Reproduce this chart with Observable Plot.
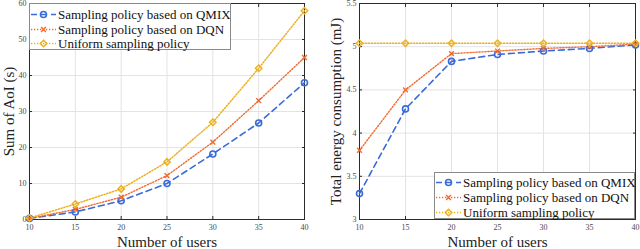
<!DOCTYPE html>
<html>
<head>
<meta charset="utf-8">
<script src="https://cdn.jsdelivr.net/npm/d3@7"></script>
<script src="https://cdn.jsdelivr.net/npm/@observablehq/plot@0.6"></script>
<style>
  body { margin: 0; background: #fff; }
  #wrap { position: relative; width: 640px; height: 249px; font-family: "Liberation Serif", "Times New Roman", serif; }
  #wrap svg.plot { position: absolute; top: 0; }
  .legend { position: absolute; background: #fff; border: 1px solid #8a8a8a; box-sizing: border-box; }
  .legend .row { position: absolute; left: 0; height: 15px; display: flex; align-items: center; white-space: nowrap; }
  .legend .row span { font-family: "Liberation Serif", "Times New Roman", serif; font-size: 13px; color: #111; }
  .legend .row svg { display: block; margin-right: 1px; }
</style>
</head>
<body>
<div id="wrap"></div>
<script>
// ---- data ----
const users = [10, 15, 20, 25, 30, 35, 40];
const aoiQMIX    = [0.3, 2.1, 5.2, 10.0, 18.2, 26.8, 38.0];
const aoiDQN     = [0.3, 2.8, 6.2, 12.2, 21.5, 33.0, 45.0];
const aoiUniform = [0.4, 4.3, 8.5, 16.0, 27.0, 42.0, 58.0];
const energyQMIX    = [3.30, 4.28, 4.83, 4.91, 4.95, 4.98, 5.02];
const energyDQN     = [3.80, 4.50, 4.92, 4.95, 4.98, 5.00, 5.03];
const energyUniform = [5.04, 5.04, 5.04, 5.04, 5.04, 5.04, 5.04];
const seriesNames = ["Sampling policy based on QMIX", "Sampling policy based on DQN", "Uniform sampling policy"];
const xTicks = [10, 15, 20, 25, 30, 35, 40];
const aoiTicks = [0, 10, 20, 30, 40, 50, 60];
const energyTicks = [3, 3.5, 4, 4.5, 5, 5.5];

const colors = ["#3a6bd9", "#f26a2e", "#edb120"];
const styles = [
  {dash: "6,4", symbol: "circle", r: 3, sw: 1.6},
  {dash: "1.3,1.7", symbol: "times", r: 2.3, sw: 1.4},
  {dash: "1.3,1.7", symbol: "diamond2", r: 2.9, sw: 1.5}
];

function rows(vals) { return users.map((u, i) => ({x: u, y: vals[i]})); }

const font = '"Liberation Serif", "Times New Roman", serif';
const frameColor = "#2b2b2b";

function panel({series, yDomain, yTicks, yLabel, marginLeft, marginRight, ylabelDx}) {
  const marks = [
    Plot.gridX(xTicks, {stroke: "#e3e3e3", strokeOpacity: 1}),
    Plot.gridY(yTicks, {stroke: "#e3e3e3", strokeOpacity: 1}),
    Plot.axisX(xTicks, {anchor: "bottom", tickSize: 0, tickPadding: 5, fontSize: 8, fill: "#4a4a4a", fontFamily: font, label: null}),
    Plot.axisY(yTicks, {anchor: "left", tickSize: 0, tickPadding: 3, fontSize: 8, fill: "#4a4a4a", fontFamily: font, label: null, tickFormat: d => String(d)}),
    Plot.axisX(xTicks, {anchor: "bottom", tickSize: -3, stroke: frameColor, tickFormat: () => "", label: null}),
    Plot.axisX(xTicks, {anchor: "top", tickSize: -3, stroke: frameColor, tickFormat: () => "", label: null}),
    Plot.axisY(yTicks, {anchor: "left", tickSize: -3, stroke: frameColor, tickFormat: () => "", label: null}),
    Plot.axisY(yTicks, {anchor: "right", tickSize: -3, stroke: frameColor, tickFormat: () => "", label: null}),
    Plot.frame({stroke: frameColor, strokeWidth: 1})
  ];
  series.forEach((vals, i) => {
    const s = styles[i];
    marks.push(Plot.line(rows(vals), {x: "x", y: "y", stroke: colors[i], strokeWidth: s.sw, strokeDasharray: s.dash}));
  });
  series.forEach((vals, i) => {
    const s = styles[i];
    marks.push(Plot.dot(rows(vals), {x: "x", y: "y", symbol: s.symbol, r: s.r, stroke: colors[i], strokeWidth: s.sw, fill: "none"}));
  });
  marks.push(Plot.text(["Number of users"], {frameAnchor: "bottom", textAnchor: "middle", lineAnchor: "middle", dy: 23, fontSize: 15, fill: "#222", fontFamily: font}));
  marks.push(Plot.text([yLabel], {frameAnchor: "left", textAnchor: "middle", lineAnchor: "middle", rotate: -90, dx: ylabelDx, fontSize: 15, fill: "#222", fontFamily: font}));
  const svg = Plot.plot({
    width: 320, height: 249,
    marginLeft, marginRight, marginTop: 3, marginBottom: 30,
    style: {fontFamily: font, background: "transparent", overflow: "visible"},
    x: {domain: [10, 40]},
    y: {domain: yDomain},
    marks
  });
  svg.classList.add("plot");
  return svg;
}

const wrap = document.getElementById("wrap");
const left = panel({series: [aoiQMIX, aoiDQN, aoiUniform], yDomain: [0, 60], yTicks: aoiTicks, yLabel: "Sum of AoI (s)", marginLeft: 29, marginRight: 16, ylabelDx: -20});
left.style.left = "0px";
const right = panel({series: [energyQMIX, energyDQN, energyUniform], yDomain: [3, 5.5], yTicks: energyTicks, yLabel: "Total energy consumption (mJ)", marginLeft: 39, marginRight: 5, ylabelDx: -23});
right.style.left = "320px";
wrap.appendChild(left);
wrap.appendChild(right);

function legend(x, y, w, h, rowTops) {
  const box = document.createElement("div");
  box.className = "legend";
  Object.assign(box.style, {left: x + "px", top: y + "px", width: w + "px", height: h + "px"});
  seriesNames.forEach((name, i) => {
    const s = styles[i];
    const row = document.createElement("div");
    row.className = "row";
    row.style.top = rowTops[i] + "px";
    const type = {circle: d3.symbolCircle, times: d3.symbolTimes, diamond2: d3.symbolDiamond2}[s.symbol];
    const sym = d3.symbol().type(type).size(Math.PI * s.r * s.r);
    row.innerHTML = `<svg width="27" height="15"><line x1="1" x2="26" y1="7.5" y2="7.5" stroke="${colors[i]}" stroke-width="${s.sw}" stroke-dasharray="${s.dash}"/><path transform="translate(13.5,7.5)" d="${sym()}" fill="none" stroke="${colors[i]}" stroke-width="${s.sw}"/></svg><span>${name}</span>`;
    box.appendChild(row);
  });
  wrap.appendChild(box);
}
legend(29, 3, 202, 47, [3, 18, 32]);
legend(434, 172, 201, 47, [2, 17, 32]);
</script>
</body>
</html>
